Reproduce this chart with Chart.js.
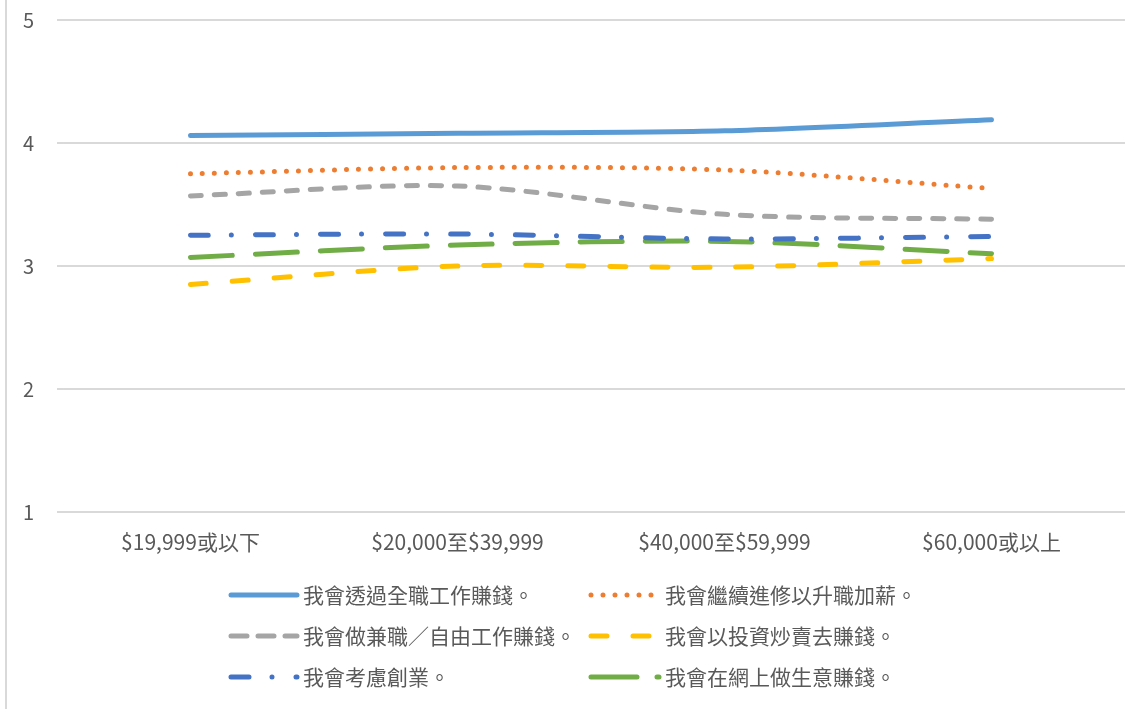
<!DOCTYPE html>
<html>
<head>
<meta charset="utf-8">
<script src="https://cdn.jsdelivr.net/npm/chart.js@4.4.1/dist/chart.umd.min.js"></script>
<style>
  html, body { margin: 0; padding: 0; background: #fff; }
  #wrap { position: relative; width: 1145px; height: 709px; }
</style>
</head>
<body>
<div id="wrap"><canvas id="c" width="1145" height="709"></canvas></div>
<script>
const categories = ['$19,999或以下', '$20,000至$39,999', '$40,000至$59,999', '$60,000或以上'];
const yTicks = [1, 2, 3, 4, 5];
const seriesLabels = [
  '我會透過全職工作賺錢。',
  '我會繼續進修以升職加薪。',
  '我會做兼職／自由工作賺錢。',
  '我會以投資炒賣去賺錢。',
  '我會考慮創業。',
  '我會在網上做生意賺錢。'
];
const fullTime   = [4.06, 4.08, 4.10, 4.19];
const furtherEdu = [3.75, 3.80, 3.78, 3.63];
const partTime   = [3.57, 3.65, 3.42, 3.38];
const investing  = [2.85, 3.00, 2.99, 3.06];
const startup    = [3.25, 3.26, 3.22, 3.24];
const online     = [3.07, 3.17, 3.20, 3.10];

const FONT = '"Noto Sans CJK TC", "Noto Sans", sans-serif';
const TXT = '#595959';

const styles = [
  { color: '#5B9BD5', dash: [] },
  { color: '#ED7D31', dash: [0, 12] },
  { color: '#A5A5A5', dash: [11, 13] },
  { color: '#FFC000', dash: [16, 26] },
  { color: '#4472C4', dash: [18, 23, 0, 24] },
  { color: '#70AD47', dash: [42, 23] }
];
const values = [fullTime, furtherEdu, partTime, investing, startup, online];

const datasets = values.map((v, i) => ({
  label: seriesLabels[i],
  data: v,
  borderColor: styles[i].color,
  backgroundColor: styles[i].color,
  borderWidth: 5,
  borderDash: styles[i].dash,
  borderCapStyle: 'round',
  borderJoinStyle: 'round',
  pointRadius: 0,
  pointHoverRadius: 0,
  tension: 0.3,
  fill: false
}));

const legendDash = [[], [0, 12], [16, 11], [16, 26], [18, 23, 0, 24], [46, 20]];

const gridLegend = {
  id: 'gridLegend',
  afterDraw(chart) {
    const ctx = chart.ctx;
    ctx.save();
    ctx.strokeStyle = '#d9d9d9';
    ctx.lineWidth = 2;
    ctx.beginPath();
    ctx.moveTo(6, 0);
    ctx.lineTo(6, 709);
    ctx.stroke();
    ctx.restore();

    const rows = [595, 636, 677];
    const cols = [{ x0: 231, x1: 297, tx: 303 }, { x0: 591, x1: 659, tx: 665 }];
    chart.data.datasets.forEach((ds, i) => {
      const r = rows[Math.floor(i / 2)];
      const c = cols[i % 2];
      ctx.save();
      ctx.strokeStyle = ds.borderColor;
      ctx.lineWidth = ds.borderWidth;
      ctx.lineCap = 'round';
      ctx.setLineDash(legendDash[i]);
      ctx.beginPath();
      ctx.moveTo(c.x0, r);
      ctx.lineTo(c.x1, r);
      ctx.stroke();
      ctx.setLineDash([]);
      ctx.fillStyle = TXT;
      ctx.font = '21px ' + FONT;
      ctx.textBaseline = 'middle';
      ctx.textAlign = 'left';
      ctx.fillText(ds.label, c.tx, r);
      ctx.restore();
    });
  }
};

new Chart(document.getElementById('c'), {
  type: 'line',
  data: { labels: categories, datasets },
  options: {
    responsive: false,
    animation: false,
    events: [],
    layout: { padding: { top: 20, right: 20, left: 23, bottom: 0 } },
    plugins: { legend: { display: false }, tooltip: { enabled: false } },
    scales: {
      x: {
        offset: true,
        grid: { display: false, drawTicks: false },
        border: { display: false },
        ticks: { color: TXT, font: { family: FONT, size: 21 }, padding: 17, maxRotation: 0 },
        afterFit(s) { s.height = 197; }
      },
      y: {
        min: 1, max: 5,
        afterBuildTicks(s) { s.ticks = yTicks.map(v => ({ value: v })); },
        grid: { color: '#d9d9d9', lineWidth: 2, drawTicks: false },
        border: { display: false },
        ticks: { color: TXT, font: { family: FONT, size: 20 }, padding: 0, crossAlign: 'far' },
        afterFit(s) { s.width = 34; }
      }
    }
  },
  plugins: [gridLegend]
});
</script>
</body>
</html>
